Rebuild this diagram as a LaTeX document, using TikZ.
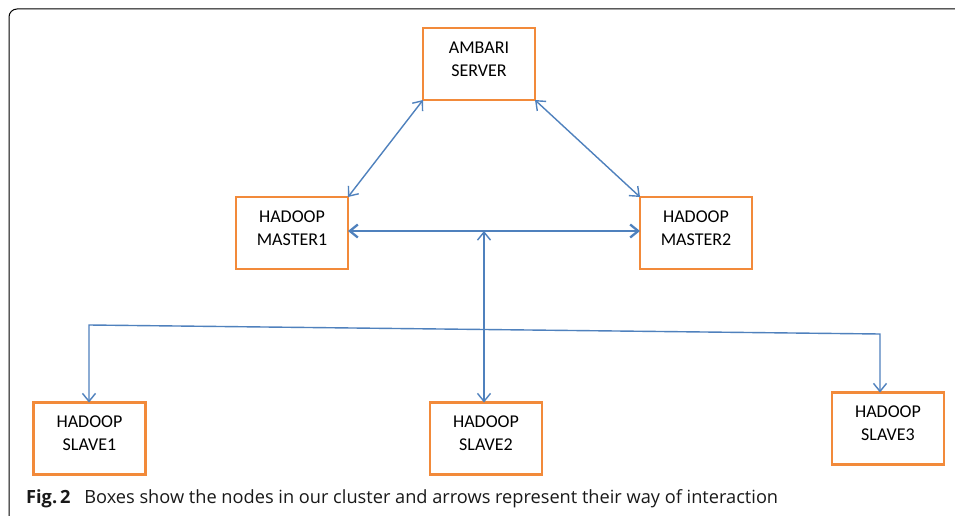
\documentclass[tikz,border=0pt]{standalone}
\usepackage{fontspec}
\usetikzlibrary{arrows.meta,calc}
\newfontfamily\boxfont{Carlito}
\newfontfamily\capfont{Open Sans}
\definecolor{boxorange}{HTML}{F28A3A}
\definecolor{lineblue}{HTML}{4F81BD}
\begin{document}
\begin{tikzpicture}[x=1pt,y=-1pt,
  box/.style={draw=boxorange, line width=2.6pt, minimum width=112pt, minimum height=72pt, inner sep=0pt, outer sep=0pt},
  boxtext/.style={font=\boxfont\fontsize{18}{23}\selectfont, align=center, inner sep=0pt, text=black},
  conn/.style={draw=lineblue, line width=1.4pt, arrows={Straight Barb[length=8pt,width=13pt]-Straight Barb[length=8pt,width=13pt]}},
]
\useasboundingbox (0,0) rectangle (955,516);
\fill[white] (0,0) rectangle (955,516);
% frame
\draw[line width=1pt, rounded corners=8pt] (957,9) -- (9,9) -- (9,518);
% boxes
\node[box] (amb) at (479,64) {};
\node[box] (m1) at (292,233) {};
\node[box] (m2) at (696,233) {};
\node[box] (s1) at (89.5,438.5) {};
\node[box] (s2) at (486,438.5) {};
\node[box] (s3) at (888,428.5) {};
% texts
\node[boxtext] (ambt) at (479,59.5) {AMBARI\\SERVER};
\node[boxtext] (m1t) at (292,228.5) {HADOOP\\MASTER1};
\node[boxtext] (m2t) at (696,228.5) {HADOOP\\MASTER2};
\node[boxtext] (s1t) at (89.5,433) {HADOOP\\SLAVE1};
\node[boxtext] (s2t) at (486,433) {HADOOP\\SLAVE2};
\node[boxtext] (s3t) at (888,423) {HADOOP\\SLAVE3};
% connectors
\draw[conn] (amb.south west) -- (m1.north east);
\draw[conn] (amb.south east) -- (m2.north west);
\draw[conn, line width=2.3pt] ([yshift=2pt]m1.east) -- ([yshift=2pt]m2.west);
\coordinate (j) at (484,231);
\coordinate (bl) at (89,325);
\coordinate (br) at (880,334);
\draw[conn] (s2.north -| j) -- (j);
\draw[conn] (s1.north -| bl) -- (bl) -- (br) -- (s3.north -| br);
% caption
\node[anchor=base west, inner sep=0pt, font=\capfont\fontsize{18.2}{21}\selectfont, text=black!90] (cap) at (26,503)
  {\textbf{Fig.\,2}\hspace{9pt} Boxes show the nodes in our cluster and arrows represent their way of interaction};
\end{tikzpicture}
\end{document}
